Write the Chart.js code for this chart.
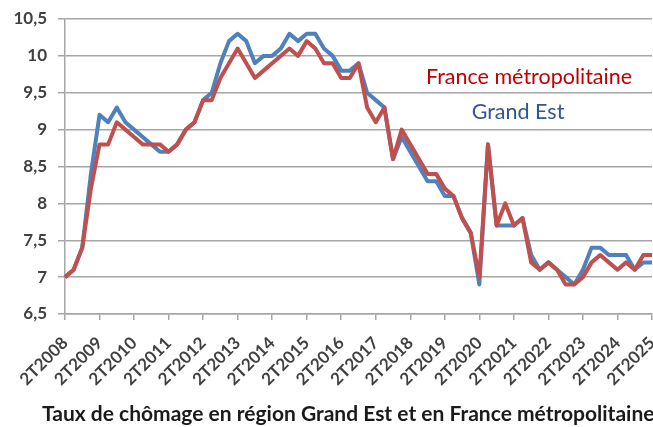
<!DOCTYPE html>
<html>
<head>
<meta charset="utf-8">
<script src="https://cdn.jsdelivr.net/npm/chart.js@4.4.1/dist/chart.umd.min.js"></script>
<style>
  html, body { margin: 0; padding: 0; background: #fff; }
  #wrap { width: 653px; height: 427px; position: relative; }
</style>
</head>
<body>
<div id="wrap"><canvas id="chart"></canvas></div>
<script>
// trimestres 2T2008 -> 2T2025
const quarters = [
  "2T2008","3T2008","4T2008","1T2009","2T2009","3T2009","4T2009","1T2010",
  "2T2010","3T2010","4T2010","1T2011","2T2011","3T2011","4T2011","1T2012",
  "2T2012","3T2012","4T2012","1T2013","2T2013","3T2013","4T2013","1T2014",
  "2T2014","3T2014","4T2014","1T2015","2T2015","3T2015","4T2015","1T2016",
  "2T2016","3T2016","4T2016","1T2017","2T2017","3T2017","4T2017","1T2018",
  "2T2018","3T2018","4T2018","1T2019","2T2019","3T2019","4T2019","1T2020",
  "2T2020","3T2020","4T2020","1T2021","2T2021","3T2021","4T2021","1T2022",
  "2T2022","3T2022","4T2022","1T2023","2T2023","3T2023","4T2023","1T2024",
  "2T2024","3T2024","4T2024","1T2025","2T2025"
];

const franceMetro = [
  7.0, 7.1, 7.4, 8.2, 8.8, 8.8, 9.1, 9.0,
  8.9, 8.8, 8.8, 8.8, 8.7, 8.8, 9.0, 9.1,
  9.4, 9.4, 9.7, 9.9, 10.1, 9.9, 9.7, 9.8,
  9.9, 10.0, 10.1, 10.0, 10.2, 10.1, 9.9, 9.9,
  9.7, 9.7, 9.9, 9.3, 9.1, 9.3, 8.6, 9.0,
  8.8, 8.6, 8.4, 8.4, 8.2, 8.1, 7.8, 7.6,
  7.0, 8.8, 7.7, 8.0, 7.7, 7.8, 7.2, 7.1,
  7.2, 7.1, 6.9, 6.9, 7.0, 7.2, 7.3, 7.2,
  7.1, 7.2, 7.1, 7.3, 7.3
];

const grandEst = [
  7.0, 7.1, 7.4, 8.4, 9.2, 9.1, 9.3, 9.1,
  9.0, 8.9, 8.8, 8.7, 8.7, 8.8, 9.0, 9.1,
  9.4, 9.5, 9.9, 10.2, 10.3, 10.2, 9.9, 10.0,
  10.0, 10.1, 10.3, 10.2, 10.3, 10.3, 10.1, 10.0,
  9.8, 9.8, 9.9, 9.5, 9.4, 9.3, 8.6, 8.9,
  8.7, 8.5, 8.3, 8.3, 8.1, 8.1, 7.8, 7.6,
  6.9, 8.8, 7.7, 7.7, 7.7, 7.8, 7.3, 7.1,
  7.2, 7.1, 7.0, 6.9, 7.1, 7.4, 7.4, 7.3,
  7.3, 7.3, 7.1, 7.2, 7.2
];

const yTicks = [6.5, 7, 7.5, 8, 8.5, 9, 9.5, 10, 10.5];

const chartTitle = "Taux de chômage en région Grand Est et en France métropolitaine";

const RED = "#C0504D";
const BLUE = "#4F81BD";
const GRID = "#a6a6a6";
const LABEL = "#404040";

// textes en surimpression (noms de séries + titre du bas)
const textPlugin = {
  id: "textes",
  afterDraw(chart) {
    const ctx = chart.ctx;
    ctx.save();
    ctx.textBaseline = "middle";
    ctx.textAlign = "center";
    ctx.font = "21.5px Lato";
    ctx.fillStyle = "#C00000";
    ctx.fillText("France métropolitaine", 529, 77);
    ctx.fillStyle = "#2F5597";
    ctx.fillText("Grand Est", 518, 112);

    ctx.textAlign = "left";
    ctx.font = "bold 21px Lato";
    ctx.fillStyle = "#1a1a1a";
    ctx.fillText(chartTitle, 42, 414);
    ctx.restore();
  }
};

new Chart(document.getElementById("chart"), {
  type: "line",
  data: {
    labels: quarters,
    datasets: [
      {
        label: "France métropolitaine",
        data: franceMetro,
        borderColor: RED,
        backgroundColor: RED,
        borderWidth: 4,
        pointRadius: 0,
        tension: 0,
        borderJoinStyle: "round"
      },
      {
        label: "Grand Est",
        data: grandEst,
        borderColor: BLUE,
        backgroundColor: BLUE,
        borderWidth: 4,
        pointRadius: 0,
        tension: 0,
        borderJoinStyle: "round"
      }
    ]
  },
  options: {
    responsive: true,
    maintainAspectRatio: false,
    animation: false,
    layout: { padding: { top: 19, right: 1, left: 0, bottom: 0 } },
    plugins: {
      legend: { display: false },
      tooltip: { enabled: false },
      title: { display: false }
    },
    scales: {
      x: {
        grid: {
          drawOnChartArea: false,
          tickLength: 6,
          lineWidth: 1.5,
          tickColor: (c) => (c.index % 4 === 0 ? GRID : "rgba(0,0,0,0)")
        },
        border: { color: GRID, width: 1.5 },
        ticks: {
          autoSkip: false,
          maxRotation: 45,
          minRotation: 45,
          padding: 13,
          color: LABEL,
          font: { family: "Lato", weight: "bold", size: 17 },
          callback: function (val, idx) {
            return idx % 4 === 0 ? quarters[idx] : "";
          }
        },
        afterFit(scale) {
          scale.height = 113;
          scale.paddingLeft = 0;
          scale.paddingRight = 0;
        }
      },
      y: {
        min: 6.5,
        max: 10.5,
        afterBuildTicks(scale) {
          scale.ticks = yTicks.map((v) => ({ value: v }));
        },
        grid: { color: GRID, lineWidth: 1.5, tickLength: 7 },
        border: { color: GRID, width: 1.5 },
        ticks: {
          padding: 11,
          color: LABEL,
          font: { family: "Lato", weight: "bold", size: 17 },
          callback: (v) => String(v).replace(".", ",")
        },
        afterFit(scale) {
          scale.width = 65;
          scale.paddingTop = 0;
          scale.paddingBottom = 0;
        }
      }
    }
  },
  plugins: [textPlugin]
});
</script>
</body>
</html>
